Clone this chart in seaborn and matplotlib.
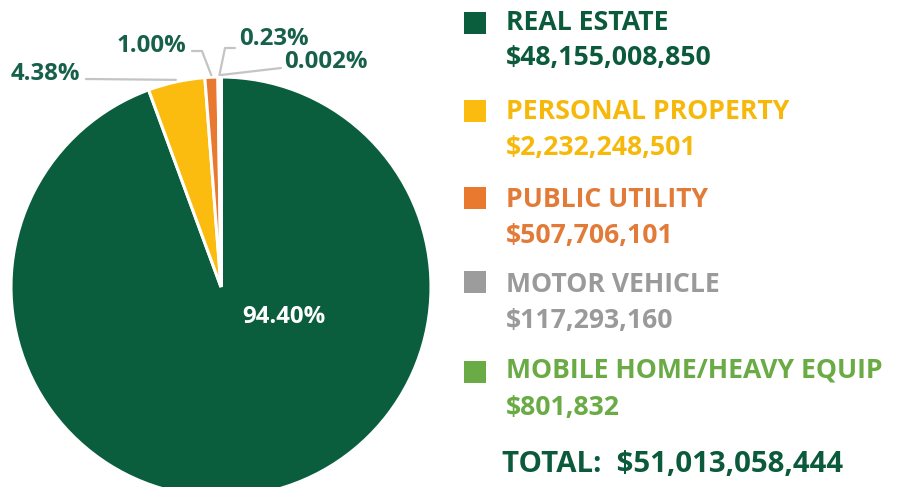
import numpy as np
import matplotlib
matplotlib.use("Agg")
import matplotlib.pyplot as plt
import seaborn as sns

# ---- data ----
categories = ["REAL ESTATE", "PERSONAL PROPERTY", "PUBLIC UTILITY",
              "MOTOR VEHICLE", "MOBILE HOME/HEAVY EQUIP"]
values = [48155008850, 2232248501, 507706101, 117293160, 801832]
value_labels = ["$48,155,008,850", "$2,232,248,501", "$507,706,101",
                "$117,293,160", "$801,832"]
pct_labels = ["94.40%", "4.38%", "1.00%", "0.23%", "0.002%"]
total_label = "TOTAL:  $51,013,058,444"

colors = ["#0b5e3d", "#fbbb0f", "#e8792f", "#9c9c9c", "#6aab45"]
text_colors = ["#0b5a3c", "#f6b90b", "#e27b37", "#9a9a9a", "#6aab45"]
label_color = "#17604a"
leader_color = "#c4c4c4"

sns.set_theme(style="white")
plt.rcParams['font.family'] = ['Open Sans', 'DejaVu Sans']

W, H = 901, 487
fig = plt.figure(figsize=(W / 100, H / 100), dpi=100)
ax = fig.add_axes([0, 0, 1, 1])


def py(y):
    return H - y


cx, cy, r = 221, 287, 210
wedges, _ = ax.pie(values, colors=colors, startangle=90, counterclock=False,
                   center=(cx, py(cy)), radius=r,
                   wedgeprops=dict(edgecolor="white", linewidth=2.2))
ax.set_xlim(0, W)
ax.set_ylim(0, H)
ax.set_aspect('equal')
ax.axis('off')
for w in wedges:
    w.set_clip_on(True)

PCT_FS = 17.3
LEG_FS = 19.2

# big label
ax.text(284, py(323), pct_labels[0], color="white", fontsize=PCT_FS,
        fontweight="bold", ha="center", va="baseline")

# small labels with leader lines; anchors derived from wedge angles
frac = np.array(values) / np.sum(values)
cum = np.cumsum(frac)
starts = 90 - 360 * np.concatenate([[0], cum[:-1]])
ends = 90 - 360 * cum
mids = (starts + ends) / 2


def anchor(i, rr=r + 2):
    a = np.deg2rad(mids[i])
    return cx + rr * np.cos(a), cy - rr * np.sin(a)


# layout: (label x, baseline y, ha, leader path points excluding anchor)
layout = {
    1: (11, 80, "left", [(86, 79)]),
    2: (117, 52, "left", [(192, 51), (202, 51)]),
    3: (239, 45, "left", [(235, 48), (225, 48)]),
    4: (284, 68, "left", [(281, 68)]),
}
for i, (lx, ly, ha, pts) in layout.items():
    ax.text(lx, py(ly), pct_labels[i], color=label_color, fontsize=PCT_FS,
            fontweight="bold", ha=ha, va="baseline")
    ax_, ay_ = anchor(i)
    xs = [p[0] for p in pts] + [ax_]
    ys = [py(p[1]) for p in pts] + [py(ay_)]
    ax.plot(xs, ys, color=leader_color, lw=1.6, solid_capstyle="round")

# legend
sq_centers = [23, 111, 198, 282, 372]
head_base = [30, 119, 207, 292, 378]
val_base = [65, 155, 243, 328, 415]
for i in range(len(categories)):
    ax.scatter([475], [py(sq_centers[i])], marker="s", s=230,
               color=colors[i], linewidths=0)
    ax.text(506, py(head_base[i]), categories[i], color=text_colors[i],
            fontsize=LEG_FS, fontweight="bold", ha="left", va="baseline")
    ax.text(506, py(val_base[i]), value_labels[i], color=text_colors[i],
            fontsize=LEG_FS, fontweight="bold", ha="left", va="baseline")

ax.text(502, py(472), total_label, color="#0b5a3c", fontsize=21.2,
        fontweight="bold", ha="left", va="baseline")

fig.savefig("out.png", dpi=100, facecolor="white")
